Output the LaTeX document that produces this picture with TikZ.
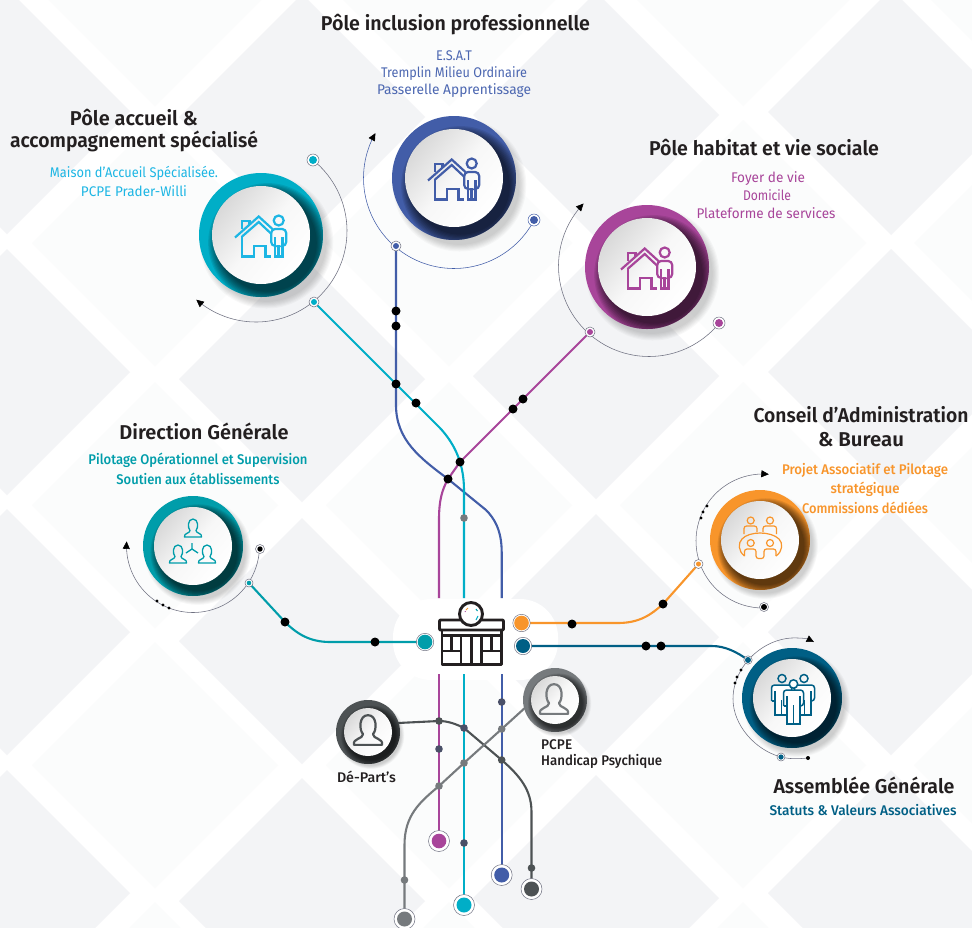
\documentclass[tikz,border=0pt]{standalone}
\usepackage{fontspec}
\setmainfont{Fira Sans}[BoldFont={Fira Sans SemiBold}]
\newfontfamily\medfont{Fira Sans Medium}
\usetikzlibrary{arrows.meta}
\definecolor{bggrey}{HTML}{F3F4F6}
\definecolor{bgfaint}{HTML}{FBFCFC}
\definecolor{ccyan}{HTML}{00AEC7}
\definecolor{tcyan}{HTML}{1DB6E4}
\definecolor{cblue}{HTML}{425DA8}
\definecolor{tblue}{HTML}{4C67B1}
\definecolor{cpurple}{HTML}{A8459A}
\definecolor{cteal}{HTML}{009DAA}
\definecolor{corange}{HTML}{F8952B}
\definecolor{cdeep}{HTML}{005F85}
\definecolor{cdark}{HTML}{4D5254}
\definecolor{cgrey}{HTML}{767A7D}
\definecolor{cdot}{HTML}{4A5068}
\definecolor{cink}{HTML}{231F20}
\definecolor{cring}{HTML}{6E7080}
\tikzset{
  x=1pt,y=-1pt,
  metro/.style={line width=2.1pt,line cap=butt},
  thinarc/.style={cring,line width=0.55pt},
  arrowarc/.style={thinarc,-{Triangle[length=7.5pt,width=7pt,black]}},
  icon/.style={line width=2.2pt,line join=miter},
  label/.style={inner sep=0pt,align=center,anchor=center},
  ltitle/.style={label,font=\bfseries\fontsize{20}{23}\selectfont,text=cink},
  lsub/.style={label,font=\fontsize{14}{17}\selectfont},
  lmed/.style={label,font=\medfont\fontsize{14}{17}\selectfont},
}
\newcommand{\fitw}[2]{\resizebox{#1pt}{\height}{#2}}
% big disc: x, y, R, r, colour, dark colour
\newcommand{\maindisc}[6]{%
  \foreach \ii in {0,...,6}{\pgfmathsetmacro{\rr}{#3-2+\ii*0.9*#3/50}
    \fill[black,opacity=0.026] ({#1+0.09*#3},{#2+0.11*#3}) circle (\rr pt);}
  \fill[#5] (#1,#2) circle (#3pt);
  \begin{scope}
    \clip (#1,#2) circle (#3pt);
    \foreach \ii in {0,...,9}{\pgfmathsetmacro{\rr}{#4+(#3-#4)*0.82*\ii/9}
      \fill[#6,opacity=0.085] ({#1+0.11*#3},{#2+0.125*#3}) circle (\rr pt);}
  \end{scope}
  \shade[top color=black!15,bottom color=white,middle color=black!3,shading angle=50] (#1,#2) circle (#4pt);
}
\newcommand{\ringdot}[5]{% name,ring r,dot r,colour, ring colour
  \fill[white] (#1) circle (#2pt);
  \draw[#5,line width=0.5pt] (#1) circle (#2pt);
  \fill[#4] (#1) circle (#3pt);
}
\newcommand{\housepers}[3]{%
  \begin{scope}[shift={(#1,#2)},#3,icon]
    \draw (-26,2.5) -- (-2.3,-18.5) -- (12,-5.5);
    \draw (-19.5,2) -- (-2.3,-13) -- (10.5,-1);
    \draw (-19,-6) -- (-19,-14) -- (-11.5,-14) -- (-11.5,-10.5);
    \draw (-19,1) -- (-19,21.5) -- (-7,21.5) -- (-7,11) -- (4.5,11) -- (4.5,21.5) -- (10,21.5);
    \draw (17.7,-14.5) circle (5pt);
    \draw[rounded corners=4pt] (13.5,11) -- (10.2,11) -- (10.2,-6) -- (25.2,-6) -- (25.2,11) -- (22,11);
    \draw (14,2) -- (14,21.5) -- (17.3,21.5) -- (17.3,11) -- (18.2,11) -- (18.2,21.5) -- (21.5,21.5) -- (21.5,2);
  \end{scope}
}
\newcommand{\bust}[5]{% x,y,scale,colour,width
  \draw[#4,line width=#5pt,line join=round,shift={(#1,#2)},scale=#3]
    (-8.5,9) -- (8.5,9) .. controls (9.5,5) and (3,5.5) .. (3,2.5)
    .. controls (5.5,0) and (5.5,-9) .. (0,-9)
    .. controls (-5.5,-9) and (-5.5,0) .. (-3,2.5)
    .. controls (-3,5.5) and (-9.5,5) .. (-8.5,9) -- cycle;
}
\newcommand{\standing}[5]{% x, top y, bottom y, half width, colour
  \begin{scope}[shift={(#1,0)},#5,line width=1.5pt]
    \path[fill=white,rounded corners=3pt] (-#4,{#2+16}) -- (-#4,#2) -- (#4,#2) -- (#4,{#2+16}) -- ({#4*.65},{#2+16}) -- ({#4*.65},#3) -- ({-#4*.65},#3) -- ({-#4*.65},{#2+16}) -- cycle;
    \draw[rounded corners=3pt] (-#4,{#2+16}) -- (-#4,#2) -- (#4,#2) -- (#4,{#2+16}) -- ({#4*.65},{#2+16});
    \draw (-#4,{#2+16}) -- ({-#4*.65},{#2+16});
    \draw ({-#4*.65},{#2+6}) -- ({-#4*.65},#3) -- ({#4*.65},#3) -- ({#4*.65},{#2+6});
    \draw (0,{#2+15}) -- (0,#3);
  \end{scope}
}
\begin{document}
\begin{tikzpicture}
\useasboundingbox (0,0) rectangle (972,927);
\fill[white] (0,0) rectangle (972,927);
% background lattice
\begin{scope}
\clip (0,0) rectangle (972,927);
\foreach \cx in {155,449,743,1037}{\foreach \cy in {-17,243,505,765,1025}{
  \fill[bgfaint] (\cx-123,\cy) -- (\cx,\cy-123) -- (\cx+123,\cy) -- (\cx,\cy+123) -- cycle;}}
\foreach \cx/\cy in {7/111,7/372,7/632,7/893,302/117,302/379,302/641,302/901,596/115,596/376,596/637,596/898,891/112,891/372,891/632,891/893}{
  \fill[bggrey] (\cx-123,\cy) -- (\cx,\cy-123) -- (\cx+123,\cy) -- (\cx,\cy+123) -- cycle;}
\fill[white,rounded corners=38pt] (393,599) rectangle (558,680);
\end{scope}
% named points
\coordinate (hubTopB) at (501.7,598);
\coordinate (hubTopC) at (464,598);
\coordinate (hubTopP) at (439,598);
\coordinate (hubBotB) at (501.7,674);
\coordinate (hubBotC) at (464,674);
\coordinate (hubBotP) at (439,674);
\coordinate (accN) at (314,302);
\coordinate (accS) at (313,160);
\coordinate (incN) at (396,246);
\coordinate (incS) at (534,220);
\coordinate (habN) at (590,332);
\coordinate (habS) at (719,323);
\coordinate (dirN) at (249,583);
\coordinate (dirS) at (260,549);
\coordinate (conN) at (698.5,564);
\coordinate (conS) at (764,607);
\coordinate (assN) at (748,660);
\coordinate (assB) at (781,757);
\coordinate (assE) at (808,758);
\coordinate (endP) at (439,841);
\coordinate (endC) at (464,905);
\coordinate (endB) at (501.7,875);
\coordinate (endD) at (531.5,889);
\coordinate (endG) at (404.5,919);
\coordinate (endT) at (425,642);
\coordinate (endO) at (521.5,623);
\coordinate (endN) at (523,646);
\coordinate (dep) at (398,723);
\coordinate (pcp) at (527,706);
\coordinate (xC) at (460,462);
\coordinate (xB) at (448,479);
% metro lines
\draw[metro,cblue] (incN) -- (396,405) .. controls (396,440) and (420,458) .. (xB) -- (486,510) .. controls (494,518) and (501.7,530) .. (501.7,552) -- (hubTopB);
\draw[metro,ccyan] (accN) -- (440,428) .. controls (452,441) and (464,460) .. (464,490) -- (hubTopC);
\draw[metro,cpurple] (habN) -- (xC) -- (xB) .. controls (442,490) and (439,500) .. (439,520) -- (hubTopP);
\draw[metro,cpurple] (hubBotP) -- (endP);
\draw[metro,ccyan] (hubBotC) -- (endC);
\draw[metro,cblue] (hubBotB) -- (endB);
\draw[metro,cdark] (dep) -- (439,721) .. controls (448,721) and (456,724) .. (464,728) -- (501.7,760) .. controls (520,776) and (531.5,790) .. (531.5,812) -- (endD);
\draw[metro,cgrey] (pcp) -- (501.7,729) -- (464,763) -- (439,786) .. controls (420,802) and (404.5,815) .. (404.5,845) -- (endG);
\draw[metro,cteal] (dirN) -- (285,622) .. controls (297,634) and (310,642) .. (330,642) -- (endT);
\draw[metro,corange] (endO) -- (618,623) .. controls (640,623) and (652,614) .. (663,604) -- (conN);
\draw[metro,cdeep] (endN) -- (712,646) .. controls (725,646) and (737,652) .. (assN);
% thin arcs
\draw[arrowarc] plot[domain=-51:131,samples=70,smooth] ({256+91*cos(\x)},{231+91*sin(\x)});
\draw[arrowarc,cblue] plot[domain=27.7:209.7,samples=70,smooth] ({454+90.5*cos(\x)},{178+90.5*sin(\x)});
\draw[arrowarc] plot[domain=39:223.7,samples=70,smooth] ({649+90.5*cos(\x)},{266+90.5*sin(\x)});
\draw[arrowarc] plot[domain=3:184,samples=60,smooth] ({193+66.5*cos(\x)},{546+66.5*sin(\x)});
\draw[arrowarc] plot[domain=89:275,samples=60,smooth] ({763+67*cos(\x)},{541+67*sin(\x)});
\draw[arrowarc] (assE) .. controls (797,759) and (789,759) .. (assB) .. controls (755,750) and (733,725) .. (733,699) .. controls (733,665) and (765,636) .. (798,638) .. controls (803,638) and (808,639) .. (814,642);
% discs
\maindisc{261}{235}{62}{49}{ccyan}{black}
\maindisc{454}{178}{62}{49}{cblue}{black}
\maindisc{647}{267}{62}{49}{cpurple}{black}
\maindisc{193}{546}{50}{39}{cteal}{black}
\maindisc{760}{540}{50}{39}{corange}{black}
\maindisc{792}{698}{50}{39}{cdeep}{black}
\maindisc{368}{732}{32}{24}{cdark}{black}
\maindisc{555}{700}{32}{24}{cgrey}{black}
% icons
\housepers{261}{235}{tcyan}
\housepers{454}{178}{cblue}
\housepers{647}{267}{cpurple}
\bust{193}{528}{1}{cteal}{1.3}
\bust{178}{554}{1}{cteal}{1.3}
\bust{207}{554}{1}{cteal}{1.3}
\draw[cteal,line width=1.3pt] (192,543) -- (192,549) (186,553) -- (192,549) -- (198,553);
\bust{368}{730}{1.65}{cdark}{2.2}
\bust{554}{699}{1.65}{cgrey}{2.2}
% table icon
\begin{scope}[shift={(760,539)},corange,line width=1.2pt,rounded corners=2.5pt]
  \draw (-9.3,-18.5) circle (3.5pt) (10,-18.5) circle (3.5pt) (-9.3,4) circle (3.5pt) (10,4) circle (3.5pt);
  \draw (-16,-5) -- (-16,-13) -- (-3,-13) -- (-3,-7);
  \draw (3,-7) -- (3,-13) -- (16.5,-13) -- (16.5,-5);
  \draw[rounded corners=0pt] (-15.5,17) .. controls (-22,12) and (-22,4) .. (-18,0) .. controls (-11,-8) and (11,-8) .. (19,0) .. controls (23,4) and (23,12) .. (16,17);
  \draw (-15.5,17) -- (-15.5,10) -- (-4,10) -- (-4,19.5) -- (4,19.5) -- (4,10) -- (16,10) -- (16,17);
\end{scope}
% people icon
\draw[cdeep,line width=1.5pt] (782,678.5) circle (4pt) (804,678.5) circle (4pt);
\standing{781.5}{685}{715}{10}{cdeep}
\standing{804.5}{685}{715}{10}{cdeep}
\draw[cdeep,line width=1.5pt,fill=white] (793.5,684) circle (4.2pt);
\standing{793.5}{690}{724}{10}{cdeep}
% building
\begin{scope}[cink,line width=2.9pt,line join=round]
  \draw[rounded corners=1pt] (439.5,630) -- (439.5,620) -- (503.5,620) -- (503.5,630) -- cycle;
  \draw (442,630) rectangle (501.5,664.5);
  \draw[line width=2.2pt] (442,635.5) -- (501.5,635.5);
  \draw (442,651) -- (461,651) (483,651) -- (501.5,651);
  \draw (451.5,635) -- (451.5,651) (491.5,635) -- (491.5,651);
  \draw (461,635) -- (461,664.5) (471.5,635) -- (471.5,664.5) (481.5,635) -- (481.5,664.5);
  \draw[fill=white] (471,614) circle (11.5pt);
\end{scope}
\draw[corange,line width=1pt] (466,610) -- (468,608);
\draw[cpurple,line width=0.8pt] (465,612) -- (465.5,611);
\draw[ccyan,line width=1pt] (478,616) -- (476,620);
\draw[cteal,line width=1pt] (476,609) -- (477.5,611);
% ring dots
\ringdot{accS}{6}{4}{ccyan}{cring}
\ringdot{accN}{5}{3}{ccyan}{cring}
\ringdot{incN}{5}{3}{cblue}{cring}
\ringdot{incS}{6}{4}{cblue}{cblue}
\ringdot{habN}{5}{3}{cpurple}{cring}
\ringdot{habS}{6}{4}{cpurple}{cring}
\ringdot{dirN}{4}{2.3}{cteal}{cring}
\ringdot{dirS}{4.5}{2.7}{black}{cring}
\ringdot{conN}{4.5}{2.5}{corange}{cring}
\ringdot{conS}{4.5}{3}{black}{cring}
\ringdot{assN}{4.2}{3}{cdeep}{cring}
\ringdot{assB}{4}{2.6}{cdeep}{cring}
\fill[black] (assE) circle (2pt);
\ringdot{endT}{8.7}{7.3}{cteal}{cring}
\ringdot{endO}{8.7}{7.3}{corange}{cring}
\ringdot{endN}{8.7}{7}{cdeep}{cring}
\ringdot{endP}{10.5}{7.3}{cpurple}{cring}
\ringdot{endC}{10.5}{7.5}{ccyan}{cring}
\ringdot{endB}{10.5}{7.5}{cblue}{cring}
\ringdot{endD}{10.5}{7.5}{cdark}{cring}
\ringdot{endG}{10.5}{7.5}{cgrey}{cring}
% small black dots
\foreach \px/\py in {396/311,396/326,396/384,416/403,523/399,513/409,460/462,448/479,285/622,375/642,572/624,663/604,646/646,661/646}
  \fill[black] (\px,\py) circle (4.5pt);
\foreach \px/\py in {157/601,163/605,169/608,707/506,703/512,701/518,741/670,737/677,735/683}
  \fill[black] (\px,\py) circle (1.6pt);
\foreach \px/\py/\pc in {439/721/cdark,439/749/cdot,439/786/cgrey,464/728/cdot,464/763/cgrey,464/518/cgrey,464/843/cdot,501.7/702/cdot,501.7/729/cgrey,501.7/760/cdark,531.5/868/cdark,404.5/880/cgrey}
  \fill[\pc] (\px,\py) circle (3.8pt);
% labels
\node[ltitle] (t1) at (455.5,24.5) {\fitw{269}{Pôle inclusion professionnelle}};
\node[lsub,text=tblue] (s1a) at (454,55.5) {\fitw{36}{E.S.A.T}};
\node[lsub,text=tblue] (s1b) at (454,73.5) {\fitw{146}{Tremplin Milieu Ordinaire}};
\node[lsub,text=tblue] (s1c) at (454,90.5) {\fitw{154}{Passerelle Apprentissage}};
\node[ltitle] (t2a) at (134,118) {\fitw{128}{Pôle accueil \&}};
\node[ltitle] (t2b) at (134,141) {\fitw{248}{accompagnement spécialisé}};
\node[lsub,text=tcyan] (s2a) at (134,173) {\fitw{168}{Maison d’Accueil Spécialisée.}};
\node[lsub,text=tcyan] (s2b) at (134,191) {\fitw{106}{PCPE Prader-Willi}};
\node[ltitle] (t3) at (764,147.5) {\fitw{230}{Pôle habitat et vie sociale}};
\node[lsub,text=cpurple] (s3a) at (768,178.5) {\fitw{74}{Foyer de vie}};
\node[lsub,text=cpurple] (s3b) at (767,195.5) {\fitw{48}{Domicile}};
\node[lsub,text=cpurple] (s3c) at (766,213) {\fitw{139}{Plateforme de services}};
\node[ltitle] (t4) at (204,431.5) {\fitw{169}{Direction Générale}};
\node[lmed,text=cteal] (s4a) at (198,460) {\fitw{219}{Pilotage Opérationnel et Supervision}};
\node[lmed,text=cteal] (s4b) at (198,478.5) {\fitw{163}{Soutien aux établissements}};
\node[ltitle] (t5a) at (861,415) {\fitw{215}{Conseil d’Administration}};
\node[ltitle] (t5b) at (861,439.5) {\fitw{86}{\& Bureau}};
\node[lmed,text=corange] (s5a) at (865,470) {\fitw{166}{Projet Associatif et Pilotage}};
\node[lmed,text=corange] (s5b) at (865,489) {\fitw{69}{stratégique}};
\node[lmed,text=corange] (s5c) at (865,507.5) {\fitw{126}{Commissions dédiées}};
\node[ltitle] (t6) at (864,785) {\fitw{181}{Assemblée Générale}};
\node[lmed,text=cdeep] (s6) at (863,810.5) {\fitw{187}{Statuts \& Valeurs Associatives}};
\node[lmed,text=cink] (d1) at (366.5,776.5) {\fitw{59}{Dé-Part’s}};
\node[lmed,text=cink,anchor=west] (p1) at (541,745) {\fitw{31}{PCPE}};
\node[lmed,text=cink,anchor=west] (p2) at (541,761.5) {\fitw{121}{Handicap Psychique}};
\end{tikzpicture}
\end{document}
